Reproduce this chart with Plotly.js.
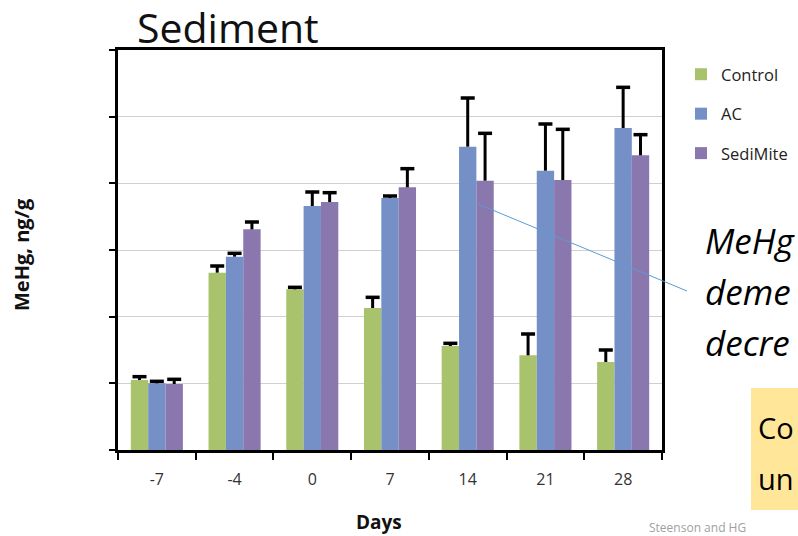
<!DOCTYPE html>
<html>
<head>
<meta charset="utf-8">
<script src="https://cdn.plot.ly/plotly-3.0.1.min.js"></script>
<style>html,body{margin:0;padding:0;background:#fff;}#chart{width:798px;height:536px;}</style>
</head>
<body>
<div id="chart"></div>
<script>
var days = ['-7', '-4', '0', '7', '14', '21', '28'];
var controlVals = [1.05, 2.66, 2.41, 2.13, 1.56, 1.42, 1.32];
var controlErr  = [0.05, 0.10, 0.03, 0.16, 0.04, 0.32, 0.18];
var acVals      = [1.00, 2.90, 3.66, 3.78, 4.55, 4.19, 4.83];
var acErr       = [0.03, 0.05, 0.21, 0.03, 0.73, 0.70, 0.61];
var sediVals    = [0.99, 3.31, 3.72, 3.94, 4.04, 4.05, 4.42];
var sediErr     = [0.07, 0.11, 0.14, 0.28, 0.71, 0.76, 0.31];
var zeros = [0, 0, 0, 0, 0, 0, 0];

function bar(name, vals, err, color, grp) {
  return {
    type: 'bar', name: name, x: days, y: vals, legendgroup: grp, offsetgroup: grp,
    marker: {color: color},
    error_y: {type: 'data', array: err, arrayminus: zeros, symmetric: false,
              color: '#000', thickness: 3, width: 0, visible: true},
    hoverinfo: 'x+y+name'
  };
}
function cap(vals, err, grp) {
  return {
    type: 'scatter', mode: 'markers', x: days, y: vals.map(function (v, i) { return v + err[i]; }),
    offsetgroup: grp, legendgroup: grp, showlegend: false, hoverinfo: 'skip',
    marker: {symbol: 'line-ew', size: 10, color: '#000', line: {color: '#000', width: 3.5}},
    cliponaxis: false
  };
}

var data = [
  bar('Control', controlVals, controlErr, '#A9C36D', 'a'),
  bar('AC', acVals, acErr, '#7490C7', 'b'),
  bar('SediMite', sediVals, sediErr, '#8A77AE', 'c'),
  cap(controlVals, controlErr, 'a'),
  cap(acVals, acErr, 'b'),
  cap(sediVals, sediErr, 'c')
];

var font = '"Open Sans", Lato, sans-serif';
var layout = {
  width: 798, height: 536,
  margin: {l: 118, r: 136, t: 50, b: 86, autoexpand: false},
  paper_bgcolor: '#fff', plot_bgcolor: '#fff',
  barmode: 'group', bargap: 0.33, bargroupgap: 0,
  scattermode: 'group', scattergap: 0.33,
  title: {text: 'Sediment', font: {family: font, size: 41, color: '#111'},
          xref: 'container', x: 137/798, xanchor: 'left',
          yref: 'container', y: 1, yanchor: 'top', pad: {t: 14, b: 0, l: 0, r: 0}},
  xaxis: {
    type: 'category', tickson: 'boundaries', ticks: 'outside', ticklen: 7, tickwidth: 2,
    tickcolor: '#000', showline: true, linecolor: '#000', linewidth: 3, mirror: true,
    ticklabelstandoff: 13,
    tickfont: {family: font, size: 16, color: '#333'}, showgrid: false, zeroline: false
  },
  yaxis: {
    range: [0, 6], dtick: 1, ticks: 'outside', ticklen: 6, tickwidth: 2, tickcolor: '#000',
    showticklabels: false, showline: true, linecolor: '#000', linewidth: 3, mirror: true,
    showgrid: true, gridcolor: '#D0D0D0', gridwidth: 1, zeroline: false
  },
  showlegend: true,
  legend: {x: (681-118)/544, xanchor: 'left', y: (450-57)/400, yanchor: 'top',
           traceorder: 'grouped', tracegroupgap: 15,
           font: {family: font, size: 16.5, color: '#222'}, bgcolor: 'rgba(0,0,0,0)'},
  shapes: [
    {type: 'rect', xref: 'paper', yref: 'paper', x0: (751-118)/544, x1: 1.35,
     y0: (450-510)/400, y1: (450-388)/400, fillcolor: '#FFE699', line: {width: 0}, layer: 'below'},
    {type: 'line', xref: 'paper', yref: 'paper', x0: (478-118)/544, y0: (450-204)/400,
     x1: (687-118)/544, y1: (450-291)/400, line: {color: '#5B9BD5', width: 1}}
  ],
  annotations: [
    {text: '<b>MeHg, ng/g</b>', xref: 'paper', yref: 'paper', x: (22-118)/544, y: (450-255)/400,
     textangle: -90, showarrow: false, xanchor: 'center', yanchor: 'middle',
     font: {family: font, size: 20, color: '#111'}},
    {text: '<b>Days</b>', xref: 'paper', yref: 'paper', x: (379-118)/544, y: (450-522)/400,
     showarrow: false, xanchor: 'center', yanchor: 'middle',
     font: {family: font, size: 19, color: '#111'}},
    {text: '<i>MeHg</i>', xref: 'paper', yref: 'paper', x: (703-118)/544, y: (450-240)/400,
     showarrow: false, xanchor: 'left', yanchor: 'middle', font: {family: font, size: 35, color: '#000'}},
    {text: '<i>deme</i>', xref: 'paper', yref: 'paper', x: (703-118)/544, y: (450-291)/400,
     showarrow: false, xanchor: 'left', yanchor: 'middle', font: {family: font, size: 35, color: '#000'}},
    {text: '<i>decre</i>', xref: 'paper', yref: 'paper', x: (703-118)/544, y: (450-342)/400,
     showarrow: false, xanchor: 'left', yanchor: 'middle', font: {family: font, size: 35, color: '#000'}},
    {text: 'Co', xref: 'paper', yref: 'paper', x: (756-118)/544, y: (450-427)/400,
     showarrow: false, xanchor: 'left', yanchor: 'middle', font: {family: font, size: 29, color: '#000'}},
    {text: 'un', xref: 'paper', yref: 'paper', x: (756-118)/544, y: (450-478)/400,
     showarrow: false, xanchor: 'left', yanchor: 'middle', font: {family: font, size: 29, color: '#000'}},
    {text: 'Steenson and HG', xref: 'paper', yref: 'paper', x: (647-118)/544, y: (450-527)/400,
     showarrow: false, xanchor: 'left', yanchor: 'middle', font: {family: font, size: 12, color: '#A0A0A0'}}
  ]
};

Plotly.newPlot('chart', data, layout, {displayModeBar: false, staticPlot: true});
</script>
</body>
</html>
